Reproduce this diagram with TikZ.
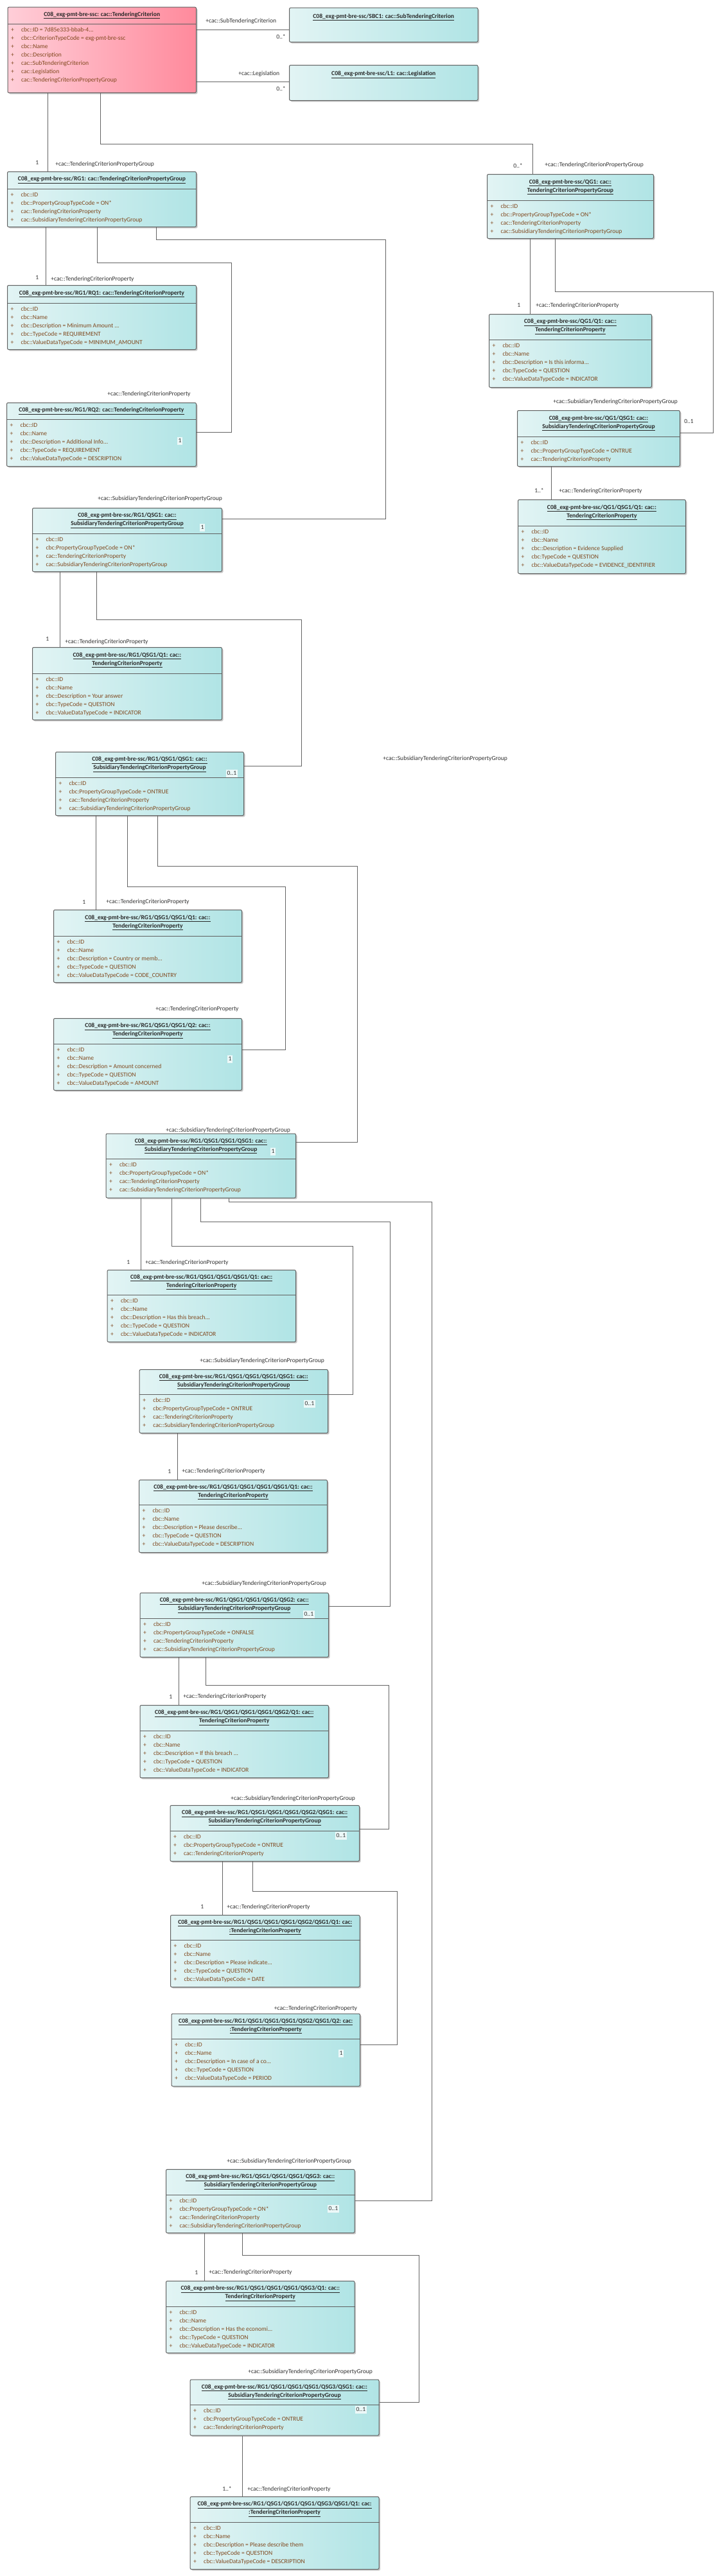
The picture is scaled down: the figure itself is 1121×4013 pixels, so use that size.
\documentclass[tikz,border=0pt]{standalone}
\usepackage{fontspec}
\setmainfont{Carlito}
\definecolor{boxline}{RGB}{96,96,96}
\definecolor{wireline}{RGB}{100,100,100}
\definecolor{shadowgray}{RGB}{200,200,200}
\definecolor{cyanL}{RGB}{226,244,244}
\definecolor{cyanR}{RGB}{176,228,229}
\definecolor{pinkL}{RGB}{255,206,216}
\definecolor{pinkR}{RGB}{255,138,156}
\definecolor{attrcol}{RGB}{128,72,30}
\definecolor{titlecol}{RGB}{40,40,40}
\definecolor{labelcol}{RGB}{50,50,50}
\definecolor{multfill}{RGB}{236,248,248}

\newcommand\pfx{C08\_exg-pmt-bre-ssc}
\newcommand\tdots{...}
\newcommand\ttl[2]{\underline{#1}\\\underline{#2}}
\newcommand\umlbox[9]{%
  \fill[shadowgray, rounded corners=1.5pt] (#2+2.5,#3+2.5) rectangle ++(#4,#5);
  \node[classbox, #7, minimum width=#4*0.75pt, minimum height=#5*0.75pt] (#1) at (#2,#3) {};
  \draw[boxline] ([yshift=-#6*0.75pt]#1.north west) -- ([yshift=-#6*0.75pt]#1.north east);
  \node[titletext] (#1-title) at ([yshift=-#6*0.375pt]#1.north) {#8};
  \foreach \rowtext [count=\i] in {#9} {
    \node[attr] at ([xshift=4pt, yshift=-(#6+10+13*\i-13)*0.75pt]#1.north west) {+};
    \node[attr] (#1-\i) at ([xshift=16pt, yshift=-(#6+10+13*\i-13)*0.75pt]#1.north west) {\rowtext};
  }
}
\newcommand\umlobj[6]{%
  \fill[shadowgray, rounded corners=1.5pt] (#2+2.5,#3+2.5) rectangle ++(#4,#5);
  \node[classbox, cyanfill, minimum width=#4*0.75pt, minimum height=#5*0.75pt] (#1) at (#2,#3) {};
  \node[titletext] (#1-title) at ([yshift=-11.5pt]#1.north) {#6};
}

\begin{document}
\begin{tikzpicture}[x=0.75pt, y=-0.75pt,
    classbox/.style={draw=boxline, line width=0.75pt, rounded corners=1.5pt, anchor=north west, inner sep=0pt},
    cyanfill/.style={left color=cyanL, right color=cyanR},
    pinkfill/.style={left color=pinkL, right color=pinkR},
    boxline/.style={draw=boxline, line width=0.75pt},
    titletext/.style={font=\bfseries\fontsize{7.2}{9.75}\selectfont, text=titlecol, align=center, inner sep=0pt},
    attr/.style={anchor=west, inner sep=0pt, font=\fontsize{7.2}{8.6}\selectfont, text=attrcol, text height=5pt, text depth=1.5pt},
    role/.style={anchor=west, inner sep=0pt, font=\fontsize{7.2}{8.6}\selectfont, text=labelcol, text height=5pt, text depth=1.5pt},
    mult/.style={role},
    multbox/.style={role, fill=multfill, inner sep=1pt},
    assoc/.style={draw=wireline, line width=0.75pt}]

\fill[white] (0,0) rectangle (1121,4013);
\useasboundingbox (0,0) rectangle (1121,4013);

\umlbox{tc}{11.5}{10.7}{293.5}{133.3}{26.3}{pinkfill}{\underline{\pfx: cac::TenderingCriterion}}
  {cbc::ID = 7d85e333-bbab-4\tdots, cbc::CriterionTypeCode = exg-pmt-bre-ssc, cbc::Name, cbc::Description, cac::SubTenderingCriterion, cac::Legislation, cac::TenderingCriterionPropertyGroup}
\umlobj{sbc}{450}{11.7}{293.5}{53.3}{\underline{\pfx/SBC1: cac::SubTenderingCriterion}}
\umlobj{leg}{450}{101}{293.5}{55}{\underline{\pfx/L1: cac::Legislation}}

\umlbox{rg1}{11}{267}{294}{86}{27}{cyanfill}{\underline{\pfx/RG1: cac::TenderingCriterionPropertyGroup}}
  {cbc::ID, cbc::PropertyGroupTypeCode = ON*, cac::TenderingCriterionProperty, cac::SubsidiaryTenderingCriterionPropertyGroup}
\umlbox{rq1}{11}{444}{294}{100}{28}{cyanfill}{\underline{\pfx/RG1/RQ1: cac::TenderingCriterionProperty}}
  {cbc::ID, cbc::Name, cbc::Description = Minimum Amount \tdots, cbc::TypeCode = REQUIREMENT, cbc::ValueDataTypeCode = MINIMUM\_AMOUNT}
\umlbox{rq2}{10}{627}{295}{99}{26.5}{cyanfill}{\underline{\pfx/RG1/RQ2: cac::TenderingCriterionProperty}}
  {cbc::ID, cbc::Name, cbc::Description = Additional Info\tdots, cbc::TypeCode = REQUIREMENT, cbc::ValueDataTypeCode = DESCRIPTION}
\umlbox{qsg1}{50}{791}{295}{99}{40}{cyanfill}{\ttl{\pfx/RG1/QSG1: cac::}{SubsidiaryTenderingCriterionPropertyGroup}}
  {cbc::ID, cbc:PropertyGroupTypeCode = ON*, cac::TenderingCriterionProperty, cac::SubsidiaryTenderingCriterionPropertyGroup}
\umlbox{qsg1q1}{50}{1008}{295}{113}{41}{cyanfill}{\ttl{\pfx/RG1/QSG1/Q1: cac::}{TenderingCriterionProperty}}
  {cbc::ID, cbc::Name, cbc::Description = Your answer, cbc::TypeCode = QUESTION, cbc::ValueDataTypeCode = INDICATOR}
\umlbox{qsg11}{86}{1171}{293}{99}{40}{cyanfill}{\ttl{\pfx/RG1/QSG1/QSG1: cac::}{SubsidiaryTenderingCriterionPropertyGroup}}
  {cbc::ID, cbc:PropertyGroupTypeCode = ONTRUE, cac::TenderingCriterionProperty, cac::SubsidiaryTenderingCriterionPropertyGroup}
\umlbox{qsg11q1}{83}{1417}{293}{113}{41}{cyanfill}{\ttl{\pfx/RG1/QSG1/QSG1/Q1: cac::}{TenderingCriterionProperty}}
  {cbc::ID, cbc::Name, cbc::Description = Country or memb\tdots, cbc::TypeCode = QUESTION, cbc::ValueDataTypeCode = CODE\_COUNTRY}
\umlbox{qsg11q2}{83}{1586}{293}{112}{40}{cyanfill}{\ttl{\pfx/RG1/QSG1/QSG1/Q2: cac::}{TenderingCriterionProperty}}
  {cbc::ID, cbc::Name, cbc::Description = Amount concerned, cbc::TypeCode = QUESTION, cbc::ValueDataTypeCode = AMOUNT}
\umlbox{qsg111}{164.5}{1765.5}{295.5}{100}{40}{cyanfill}{\ttl{\pfx/RG1/QSG1/QSG1/QSG1: cac::}{SubsidiaryTenderingCriterionPropertyGroup}}
  {cbc::ID, cbc:PropertyGroupTypeCode = ON*, cac::TenderingCriterionProperty, cac::SubsidiaryTenderingCriterionPropertyGroup}
\umlbox{qsg111q1}{166.5}{1978}{293.5}{112}{39}{cyanfill}{\ttl{\pfx/RG1/QSG1/QSG1/QSG1/Q1: cac::}{TenderingCriterionProperty}}
  {cbc::ID, cbc::Name, cbc::Description = Has this breach\tdots, cbc::TypeCode = QUESTION, cbc::ValueDataTypeCode = INDICATOR}
\umlbox{qsg1111}{216.7}{2133}{293.3}{99}{39}{cyanfill}{\ttl{\pfx/RG1/QSG1/QSG1/QSG1/QSG1: cac::}{SubsidiaryTenderingCriterionPropertyGroup}}
  {cbc::ID, cbc:PropertyGroupTypeCode = ONTRUE, cac::TenderingCriterionProperty, cac::SubsidiaryTenderingCriterionPropertyGroup}
\umlbox{qsg1111q1}{216}{2305}{293}{113}{39}{cyanfill}{\ttl{\pfx/RG1/QSG1/QSG1/QSG1/QSG1/Q1: cac::}{TenderingCriterionProperty}}
  {cbc::ID, cbc::Name, cbc::Description = Please describe\tdots, cbc::TypeCode = QUESTION, cbc::ValueDataTypeCode = DESCRIPTION}
\umlbox{qsg1112}{217.5}{2481}{293.5}{100}{40}{cyanfill}{\ttl{\pfx/RG1/QSG1/QSG1/QSG1/QSG2: cac::}{SubsidiaryTenderingCriterionPropertyGroup}}
  {cbc::ID, cbc:PropertyGroupTypeCode = ONFALSE, cac::TenderingCriterionProperty, cac::SubsidiaryTenderingCriterionPropertyGroup}
\umlbox{qsg1112q1}{217.5}{2656}{293.5}{113}{40}{cyanfill}{\ttl{\pfx/RG1/QSG1/QSG1/QSG1/QSG2/Q1: cac::}{TenderingCriterionProperty}}
  {cbc::ID, cbc::Name, cbc::Description = If this breach \tdots, cbc::TypeCode = QUESTION, cbc::ValueDataTypeCode = INDICATOR}
\umlbox{qsg11121}{264.5}{2812}{294.5}{87}{40}{cyanfill}{\ttl{\pfx/RG1/QSG1/QSG1/QSG1/QSG2/QSG1: cac::}{SubsidiaryTenderingCriterionPropertyGroup}}
  {cbc::ID, cbc:PropertyGroupTypeCode = ONTRUE, cac::TenderingCriterionProperty}
\umlbox{qsg11121q1}{265}{2983}{294.6}{112}{39}{cyanfill}{\ttl{\pfx/RG1/QSG1/QSG1/QSG1/QSG2/QSG1/Q1: cac:}{:TenderingCriterionProperty}}
  {cbc::ID, cbc::Name, cbc::Description = Please indicate\tdots, cbc::TypeCode = QUESTION, cbc::ValueDataTypeCode = DATE}
\umlbox{qsg11121q2}{266.5}{3136.5}{293.5}{113}{40}{cyanfill}{\ttl{\pfx/RG1/QSG1/QSG1/QSG1/QSG2/QSG1/Q2: cac:}{:TenderingCriterionProperty}}
  {cbc::ID, cbc::Name, cbc::Description = In case of a co\tdots, cbc::TypeCode = QUESTION, cbc::ValueDataTypeCode = PERIOD}
\umlbox{qsg1113}{258}{3379}{293.6}{99}{40}{cyanfill}{\ttl{\pfx/RG1/QSG1/QSG1/QSG1/QSG3: cac::}{SubsidiaryTenderingCriterionPropertyGroup}}
  {cbc::ID, cbc:PropertyGroupTypeCode = ON*, cac::TenderingCriterionProperty, cac::SubsidiaryTenderingCriterionPropertyGroup}
\umlbox{qsg1113q1}{258}{3553}{293.6}{112}{40}{cyanfill}{\ttl{\pfx/RG1/QSG1/QSG1/QSG1/QSG3/Q1: cac::}{TenderingCriterionProperty}}
  {cbc::ID, cbc::Name, cbc::Description = Has the economi\tdots, cbc::TypeCode = QUESTION, cbc::ValueDataTypeCode = INDICATOR}
\umlbox{qsg11131}{295.6}{3706.5}{293.9}{87}{39.5}{cyanfill}{\ttl{\pfx/RG1/QSG1/QSG1/QSG1/QSG3/QSG1: cac::}{SubsidiaryTenderingCriterionPropertyGroup}}
  {cbc::ID, cbc:PropertyGroupTypeCode = ONTRUE, cac::TenderingCriterionProperty}
\umlbox{qsg11131q1}{295.6}{3889}{293.9}{113}{40}{cyanfill}{\ttl{\pfx/RG1/QSG1/QSG1/QSG1/QSG3/QSG1/Q1: cac:}{:TenderingCriterionProperty}}
  {cbc::ID, cbc::Name, cbc::Description = Please describe them, cbc::TypeCode = QUESTION, cbc::ValueDataTypeCode = DESCRIPTION}

\umlbox{qg1}{758}{271}{259}{100}{41}{cyanfill}{\ttl{\pfx/QG1: cac::}{TenderingCriterionPropertyGroup}}
  {cbc::ID, cbc::PropertyGroupTypeCode = ON*, cac::TenderingCriterionProperty, cac::SubsidiaryTenderingCriterionPropertyGroup}
\umlbox{qg1q1}{761}{489}{253}{114}{40}{cyanfill}{\ttl{\pfx/QG1/Q1: cac::}{TenderingCriterionProperty}}
  {cbc::ID, cbc::Name, cbc::Description = Is this informa\tdots, cbc:TypeCode = QUESTION, cbc::ValueDataTypeCode = INDICATOR}
\umlbox{qg1qsg1}{805}{639}{253}{87}{41}{cyanfill}{\ttl{\pfx/QG1/QSG1: cac::}{SubsidiaryTenderingCriterionPropertyGroup}}
  {cbc::ID, cbc::PropertyGroupTypeCode = ONTRUE, cac::TenderingCriterionProperty}
\umlbox{qg1qsg1q1}{806}{778}{261}{115}{41}{cyanfill}{\ttl{\pfx/QG1/QSG1/Q1: cac::}{TenderingCriterionProperty}}
  {cbc::ID, cbc::Name, cbc::Description = Evidence Supplied, cbc:TypeCode = QUESTION, cbc::ValueDataTypeCode = EVIDENCE\_IDENTIFIER}

\draw[assoc] (tc.east |- 0,46.7) -- (sbc.west |- 0,46.7);
\node[role] (c1r) at (320,33) {+cac::SubTenderingCriterion};
\node[mult] (c1m) at (430,58) {0..*};
\draw[assoc] (tc.east |- 0,127) -- (leg.west |- 0,127);
\node[role] (c2r) at (371,115) {+cac::Legislation};
\node[mult] (c2m) at (430,139) {0..*};
\draw[assoc] (tc.south -| 74.5,0) -- (rg1.north -| 74.5,0);
\node[mult] (c3m) at (55,254) {1};
\node[role] (c3r) at (86,256) {+cac::TenderingCriterionPropertyGroup};
\draw[assoc] (tc.south -| 156,0) |- (829,224) -- (qg1.north -| 829,0);
\node[mult] (c4m) at (799,259) {0..*};
\node[role] (c4r) at (848,257) {+cac::TenderingCriterionPropertyGroup};

\draw[assoc] (qg1.south -| 825,0) -- (qg1q1.north -| 825,0);
\node[mult] (c5m) at (805,476) {1};
\node[role] (c5r) at (834,476) {+cac::TenderingCriterionProperty};
\draw[assoc] (qg1.south -| 864,0) |- (1110,454) |- (qg1qsg1.east |- 0,674);
\node[role] (c6r) at (861,626) {+cac::SubsidiaryTenderingCriterionPropertyGroup};
\node[mult] (c6m) at (1065,657) {0..1};
\draw[assoc] (qg1qsg1.south -| 858,0) -- (qg1qsg1q1.north -| 858,0);
\node[mult] (c7m) at (832,765) {1..*};
\node[role] (c7r) at (870,765) {+cac::TenderingCriterionProperty};

\draw[assoc] (rg1.south -| 71,0) -- (rq1.north -| 71,0);
\node[mult] (c8m) at (55,433) {1};
\node[role] (c8r) at (79,435) {+cac::TenderingCriterionProperty};
\draw[assoc] (rg1.south -| 151,0) |- (360,409) |- (rq2.east |- 0,673);
\node[role] (c9r) at (167,614) {+cac::TenderingCriterionProperty};
\node[multbox] (c9m) at (276,687) {1};
\draw[assoc] (rg1.south -| 243,0) |- (600,373) |- (qsg1.east |- 0,808);
\node[role] (c10r) at (152,777) {+cac::SubsidiaryTenderingCriterionPropertyGroup};
\node[multbox] (c10m) at (311,822) {1};
\draw[assoc] (qsg1.south -| 93,0) -- (qsg1q1.north -| 93,0);
\node[mult] (c11m) at (71,996) {1};
\node[role] (c11r) at (101,1000) {+cac::TenderingCriterionProperty};
\draw[assoc] (qsg1.south -| 150,0) |- (469,965.5) |- (qsg11.east |- 0,1193);
\node[multbox] (c12m) at (352,1205) {0..1};
\node[role] (c12r) at (596,1182) {+cac::SubsidiaryTenderingCriterionPropertyGroup};

\draw[assoc] (qsg11.south -| 149,0) -- (qsg11q1.north -| 149,0);
\node[mult] (c13m) at (128,1406) {1};
\node[role] (c13r) at (165,1405) {+cac::TenderingCriterionProperty};
\draw[assoc] (qsg11.south -| 198,0) |- (444,1381) |- (qsg11q2.east |- 0,1635);
\node[role] (c14r) at (242,1572) {+cac::TenderingCriterionProperty};
\node[multbox] (c14m) at (354,1650) {1};
\draw[assoc] (qsg11.south -| 245,0) |- (556,1349) |- (qsg111.east |- 0,1779);
\node[role] (c15r) at (258,1761) {+cac::SubsidiaryTenderingCriterionPropertyGroup};
\node[multbox] (c15m) at (421,1794) {1};

\draw[assoc] (qsg111.south -| 219.6,0) -- (qsg111q1.north -| 219.6,0);
\node[mult] (c16m) at (197,1967) {1};
\node[role] (c16r) at (226,1967) {+cac::TenderingCriterionProperty};
\draw[assoc] (qsg111.south -| 267,0) |- (549,1941) |- (qsg1111.east |- 0,2172);
\node[role] (c17r) at (311,2120) {+cac::SubsidiaryTenderingCriterionPropertyGroup};
\node[multbox] (c17m) at (473,2187) {0..1};
\draw[assoc] (qsg1111.south -| 276,0) -- (qsg1111q1.north -| 276,0);
\node[mult] (c18m) at (261,2293) {1};
\node[role] (c18r) at (283,2292) {+cac::TenderingCriterionProperty};
\draw[assoc] (qsg111.south -| 312,0) |- (607,1903) |- (qsg1112.east |- 0,2502);
\node[role] (c19r) at (314,2467) {+cac::SubsidiaryTenderingCriterionPropertyGroup};
\node[multbox] (c19m) at (472,2515) {0..1};
\draw[assoc] (qsg1112.south -| 278,0) -- (qsg1112q1.north -| 278,0);
\node[mult] (c20m) at (263,2644) {1};
\node[role] (c20r) at (285,2643) {+cac::TenderingCriterionProperty};
\draw[assoc] (qsg1112.south -| 320,0) |- (605,2625) |- (qsg11121.east |- 0,2849);
\node[role] (c21r) at (359,2802) {+cac::SubsidiaryTenderingCriterionPropertyGroup};
\node[multbox] (c21m) at (522,2860) {0..1};
\draw[assoc] (qsg11121.south -| 346.5,0) -- (qsg11121q1.north -| 346.5,0);
\node[mult] (c22m) at (312,2971) {1};
\node[role] (c22r) at (353,2971) {+cac::TenderingCriterionProperty};
\draw[assoc] (qsg11121.south -| 393.5,0) |- (618,2946) |- (qsg11121q2.east |- 0,3185);
\node[role] (c23r) at (426.5,3129) {+cac::TenderingCriterionProperty};
\node[multbox] (c23m) at (527,3199) {1};

\draw[assoc] (qsg111.south -| 356,0) |- (672,1872) |- (qsg1113.east |- 0,3428);
\node[role] (c24r) at (353,3367) {+cac::SubsidiaryTenderingCriterionPropertyGroup};
\node[multbox] (c24m) at (510,3441) {0..1};
\draw[assoc] (qsg1113.south -| 318.5,0) -- (qsg1113q1.north -| 318.5,0);
\node[mult] (c25m) at (303,3541) {1};
\node[role] (c25r) at (325,3540) {+cac::TenderingCriterionProperty};
\draw[assoc] (qsg1113.south -| 377,0) |- (652,3513) |- (qsg11131.east |- 0,3742);
\node[role] (c26r) at (386,3695) {+cac::SubsidiaryTenderingCriterionPropertyGroup};
\node[multbox] (c26m) at (553,3754) {0..1};
\draw[assoc] (qsg11131.south -| 377.4,0) -- (qsg11131q1.north -| 377.4,0);
\node[mult] (c27m) at (346,3878) {1..*};
\node[role] (c27r) at (385,3878) {+cac::TenderingCriterionProperty};

\end{tikzpicture}
\end{document}
